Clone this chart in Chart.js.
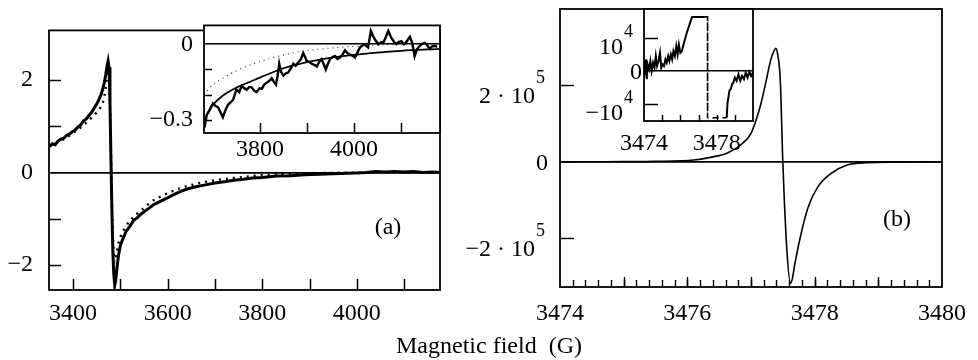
<!DOCTYPE html>
<html>
<head>
<meta charset="utf-8">
<script src="https://cdn.jsdelivr.net/npm/chart.js@4.4.1/dist/chart.umd.min.js"></script>
<style>
  body { margin: 0; background: #fff; }
  #wrap { position: relative; width: 978px; height: 360px; overflow: hidden; font-family: "Liberation Serif", "Times New Roman", serif; }
  canvas { position: absolute; }
  .txt { position: absolute; font-size: 24px; line-height: 24px; color: #000; white-space: pre; transform: translate(-50%, -50%); }
</style>
</head>
<body>
<div id="wrap">
  <canvas id="leftMain" width="470" height="340" style="left:0px;top:0px"></canvas>
  <canvas id="rightMain" width="518" height="340" style="left:460px;top:0px"></canvas>
  <canvas id="leftInset" width="320" height="175" style="left:140px;top:0px"></canvas>
  <canvas id="rightInset" width="200" height="170" style="left:570px;top:0px"></canvas>
  <div class="txt" style="left:388px;top:226px">(a)</div>
  <div class="txt" style="left:897px;top:218px">(b)</div>
  <div class="txt" style="left:489px;top:345px">Magnetic field  (G)</div>
</div>
<script>
// ---- panel (a): measured signal and fits ----
const leftField = [3350,3356,3362,3368,3374,3380,3386,3392,3398,3404,3410,3416,3422,3428,3434,3440,3446,3452,3458,3462,
  3466,3469,3472,3474,3476,3478,3480,3482,3484,3486,3488,3490,3493,3496,3500,3506,3512,3520,3528,3536,
  3544,3552,3560,3570,3580,3590,3600,3615,3630,3645,3660,3680,3700,3720,3740,3760,3780,3800,3830,3860,
  3890,3920,3950,3980,4000,4020,4040,4060,4080,4100,4120,4140,4160,4175];
const leftSignal = [0.56,0.62,0.60,0.68,0.72,0.74,0.80,0.83,0.88,0.92,0.98,1.03,1.12,1.16,1.24,1.32,1.42,1.52,1.66,1.78,
  1.95,2.12,2.32,2.42,2.28,1.5,0.3,-0.8,-1.7,-2.2,-2.45,-2.35,-2.05,-1.8,-1.58,-1.42,-1.28,-1.17,-1.04,-0.98,
  -0.9,-0.84,-0.78,-0.7,-0.65,-0.6,-0.55,-0.47,-0.4,-0.35,-0.31,-0.27,-0.23,-0.2,-0.17,-0.15,-0.12,-0.11,-0.08,-0.07,
  -0.05,-0.04,-0.03,-0.02,-0.01,0.0,0.02,0.01,0.02,0.01,0.02,0.0,0.01,0.0];

const leftDotField = [3350,3380,3410,3430,3445,3455,3465,3471,3475,3479,3482,3485,3488,3492,3497,3503,3510,3520,3535,3550,
  3565,3580,3600,3630,3660,3700,3750,3800,3850,3900,3950,4000,4050,4100,4175];
const leftDotSignal = [0.58,0.72,0.93,1.1,1.25,1.36,1.6,2.0,2.3,1.0,-0.6,-1.6,-1.95,-1.75,-1.5,-1.33,-1.2,-1.05,-0.9,-0.77,
  -0.64,-0.55,-0.45,-0.33,-0.25,-0.17,-0.11,-0.06,-0.035,-0.02,-0.01,-0.005,0,0,0];

// inset of (a): zoom on the tail
const insetField = [3682,3687,3693,3700,3706,3711,3716,3721,3727,3732,3738,3743,3750,3756,3761,3767,3772,3777,3782,3788,
  3793,3799,3804,3809,3814,3820,3825,3830,3834,3838,3841,3845,3850,3855,3860,3866,3871,3876,3882,3887,
  3892,3896,3899,3905,3910,3916,3921,3926,3931,3936,3940,3944,3949,3955,3960,3965,3970,3976,3981,3986,
  3991,3997,4002,4008,4013,4018,4023,4027,4030,4033,4036,4040,4043,4048,4052,4057,4062,4067,4070,4073,
  4077,4080,4085,4090,4095,4101,4106,4110,4115,4119,4124,4129,4134,4140,4145,4151,4156,4161,4166,4172,4177];
const insetSignal = [-0.33,-0.28,-0.26,-0.235,-0.245,-0.25,-0.27,-0.29,-0.26,-0.24,-0.23,-0.22,-0.18,-0.19,-0.165,-0.175,-0.18,-0.17,-0.17,-0.185,
  -0.19,-0.175,-0.177,-0.16,-0.153,-0.145,-0.135,-0.15,-0.16,-0.12,-0.077,-0.11,-0.124,-0.115,-0.112,-0.095,-0.077,-0.085,-0.07,-0.06,
  -0.035,-0.05,-0.065,-0.07,-0.077,-0.082,-0.088,-0.07,-0.059,-0.08,-0.1,-0.08,-0.059,-0.05,-0.047,-0.058,-0.053,-0.04,-0.024,-0.035,
  -0.041,-0.045,-0.053,-0.03,-0.012,-0.005,0.0,-0.008,-0.012,0.02,0.053,0.035,0.024,0.01,0.0,0.008,0.006,0.025,0.04,0.053,
  0.035,0.024,0.01,0.0,0.01,0.012,0.0,0.005,0.02,0.03,0.005,-0.047,-0.02,-0.006,0.002,0.006,-0.005,-0.018,-0.008,-0.006,-0.01];
const insetFitField = [3681,3690,3700,3720,3750,3780,3800,3850,3900,3950,4000,4050,4100,4183];
const insetFitSignal = [-0.30,-0.27,-0.24,-0.205,-0.172,-0.148,-0.132,-0.095,-0.071,-0.054,-0.042,-0.033,-0.026,-0.018];
const insetDotField = [3681,3700,3725,3750,3775,3800,3825,3850,3875,3900,3950,4000,4050,4100];
const insetDotSignal = [-0.2,-0.16,-0.13,-0.105,-0.085,-0.068,-0.055,-0.042,-0.032,-0.025,-0.015,-0.008,-0.003,0];

// ---- panel (b): calculated line ----
const rightField = [3474.0,3474.5,3475.0,3475.5,3476.1,3476.36,3476.62,3476.87,3477.0,3477.08,3477.16,3477.23,3477.31,3477.36,3477.39,3477.42,3477.46,3477.5,3477.56,3477.62,
  3477.65,3477.69,3477.8,3477.9,3478.05,3478.26,3478.51,3478.82,3479.3,3480.0];
const rightSignal = [0,0.005e5,0.008e5,0.015e5,0.05e5,0.12e5,0.23e5,0.49e5,0.75e5,1.1e5,1.55e5,2.06e5,2.67e5,2.9e5,2.97e5,2.8e5,2.14e5,0,-2.21e5,-3.17e5,
  -3.05e5,-2.65e5,-1.78e5,-1.17e5,-0.65e5,-0.3e5,-0.08e5,-0.02e5,-0.005e5,0];

// inset of (b): clipped view
const rightInsetField = [3474.0,3474.06,3474.1,3474.15,3474.2,3474.28,3474.35,3474.42,3474.5,3474.58,3474.65,3474.72,3474.8,3474.88,3474.95,3475.02,3475.1,3475.18,3475.25,3475.33,
  3475.4,3475.48,3475.55,3475.62,3475.7,3475.78,3475.85,3475.92,3476.0,3476.08,3476.2,3476.35,3476.5,3476.65,3477.35,3477.5,3477.5,3478.55,3478.6,3478.65,
  3478.7,3478.78,3478.85,3478.92,3479.0,3479.1,3479.2,3479.3,3479.4,3479.5,3479.6,3479.7,3479.8,3479.9,3480.0];
const rightInsetSignal = [0.3e4,-0.1e4,0.35e4,-0.25e4,0.2e4,0.05e4,0.3e4,0.0,0.25e4,0.1e4,0.45e4,0.15e4,0.3e4,0.55e4,0.1e4,0.2e4,0.15e4,0.35e4,0.25e4,0.45e4,
  0.3e4,0.5e4,0.35e4,0.6e4,0.45e4,0.75e4,0.5e4,0.8e4,0.55e4,0.6e4,0.85e4,1.15e4,1.4e4,1.64e4,1.64e4,1.64e4,-1.42e4,-1.42e4,-0.95e4,-0.8e4,
  -0.6e4,-0.55e4,-0.4e4,-0.35e4,-0.2e4,-0.3e4,-0.1e4,-0.3e4,-0.15e4,-0.25e4,-0.05e4,-0.2e4,-0.02e4,-0.15e4,-0.05e4];
const rightInsetDashStart = 3477.35;
const rightInsetDashEnd = 3478.55;

// ---- ticks and labels ----
const leftXLabels = [3400, 3600, 3800, 4000];
const leftXMarks = [3400, 3500, 3600, 3700, 3800, 3900, 4000, 4100];
const leftYLabels = [-2, 0, 2];
const leftYMarks = [-2, -1, 1, 2];
const insetXLabels = [3800, 4000];
const insetXMarks = [3800, 3900, 4000, 4100];
const insetYLabels = [-0.3, 0];
const insetYMarks = [-0.3, -0.2, -0.1];
const rightXLabels = [3474, 3476, 3478, 3480];
const rightXMajorMarks = [3475, 3476, 3477, 3478, 3479];
const rightXMinorStep = 0.2;
const rightYValues = [-2e5, 0, 2e5];
const rightYTexts = ['\u22122 \u00b7 10', '0', '2 \u00b7 10'];
const rightYSups = ['5', '', '5'];
const rightYMarks = [-2e5, 2e5];
const rInsetXLabels = [3474, 3478];
const rInsetXMarks = [3475, 3476, 3477, 3478, 3479];
const rInsetYValues = [-1e4, 0, 1e4];
const rInsetYTexts = ['\u221210', '0', '10'];
const rInsetYSups = ['4', '', '4'];
const rInsetYMarks = [-1e4, 1e4];

const pts = (xs, ys) => xs.map((x, i) => ({ x: x, y: ys[i] }));
const fmt = v => String(v).replace('-', '\u2212');
const FONT = '"Liberation Serif", "Times New Roman", serif';

Chart.defaults.font.family = FONT;
Chart.defaults.font.size = 24;
Chart.defaults.color = '#000';

// white box, frame and inward tick marks
const framePlugin = {
  id: 'frame',
  beforeDraw(chart, args, o) {
    const a = chart.chartArea, ctx = chart.ctx;
    ctx.save();
    ctx.fillStyle = '#fff';
    ctx.fillRect(a.left, a.top, a.right - a.left, a.bottom - a.top);
    ctx.restore();
  },
  afterDraw(chart, args, o) {
    const a = chart.chartArea, ctx = chart.ctx;
    ctx.save();
    ctx.strokeStyle = '#000';
    ctx.lineWidth = o.width;
    ctx.strokeRect(a.left, a.top, a.right - a.left, a.bottom - a.top);
    ctx.lineWidth = o.tickWidth;
    (o.marks || []).forEach(m => {
      const s = chart.scales[m.axis];
      m.values.forEach(v => {
        const p = Math.round(s.getPixelForValue(v)) + 0.5;
        ctx.beginPath();
        if (m.axis === 'x') { ctx.moveTo(p, a.bottom); ctx.lineTo(p, a.bottom - m.len); }
        else { ctx.moveTo(a.left, p); ctx.lineTo(a.left + m.len, p); }
        ctx.stroke();
      });
    });
    ctx.restore();
  }
};

// y labels with a raised exponent
const supPlugin = {
  id: 'supLabels',
  afterDraw(chart, args, o) {
    if (!o.values) return;
    const ctx = chart.ctx, s = chart.scales.y, left = chart.chartArea.left;
    ctx.save();
    ctx.fillStyle = '#000';
    ctx.textBaseline = 'middle';
    o.values.forEach((v, i) => {
      const y = s.getPixelForValue(v);
      const sup = o.sups[i];
      if (!sup) {
        ctx.font = '24px ' + FONT;
        ctx.textAlign = 'right';
        ctx.fillText(o.texts[i], left - o.pad, y + 2);
        return;
      }
      ctx.font = o.supSize + 'px ' + FONT;
      const sw = ctx.measureText(sup).width;
      ctx.textAlign = 'left';
      ctx.fillText(sup, left - o.supPad - sw, y + o.dySup);
      ctx.font = '24px ' + FONT;
      ctx.textAlign = 'right';
      ctx.fillText(o.texts[i], left - o.supPad - sw - 1, y + o.dyBase);
    });
    ctx.restore();
  }
};

function axes(o) {
  return {
    x: {
      type: 'linear', min: o.xMin, max: o.xMax,
      afterBuildTicks: s => { s.ticks = o.xLabels.map(v => ({ value: v })); },
      afterFit: s => { s.height = o.xHeight; },
      grid: { display: false, drawTicks: false },
      border: { display: false },
      ticks: { padding: o.xPad, maxRotation: 0, autoSkip: false, callback: v => fmt(v) }
    },
    y: {
      type: 'linear', min: o.yMin, max: o.yMax,
      afterBuildTicks: s => { s.ticks = o.yLabels.map(v => ({ value: v })); },
      afterFit: s => { s.width = o.yWidth; },
      grid: {
        drawTicks: false,
        lineWidth: o.zeroWidth,
        color: c => (c.tick && c.tick.value === 0) ? '#000' : 'rgba(0,0,0,0)'
      },
      border: { display: false },
      ticks: { display: o.yNative, padding: o.yPad, callback: v => fmt(v) }
    }
  };
}

function makeChart(id, datasets, ax, padding, frame, sup) {
  return new Chart(document.getElementById(id), {
    type: 'line',
    data: { datasets: datasets },
    options: {
      responsive: false,
      animation: false,
      events: [],
      layout: { padding: padding },
      plugins: {
        legend: { display: false },
        tooltip: { enabled: false },
        frame: frame,
        supLabels: sup || {}
      },
      elements: { point: { radius: 0 }, line: { tension: 0, borderColor: '#000', fill: false } },
      scales: axes(ax)
    },
    plugins: [framePlugin, supPlugin]
  });
}

// (a) main panel
makeChart('leftMain', [
  { data: pts(leftField, leftSignal), borderWidth: 3, borderColor: '#000' },
  { data: pts(leftDotField, leftDotSignal), borderWidth: 2.4, borderColor: '#000', borderDash: [2, 5], cubicInterpolationMode: 'monotone' }
], {
  xMin: 3349, xMax: 4176, yMin: -2.55, yMax: 3.08,
  xLabels: leftXLabels, yLabels: leftYLabels,
  xHeight: 50, yWidth: 49, xPad: 9, yPad: 16, yNative: true, zeroWidth: 1.8
}, { top: 12, right: 30, left: 0, bottom: 0 }, {
  width: 1.8, tickWidth: 1.5,
  marks: [{ axis: 'x', values: leftXMarks, len: 11 }, { axis: 'y', values: leftYMarks, len: 12 }]
});

// (a) inset
makeChart('leftInset', [
  { data: pts(insetDotField, insetDotSignal), borderWidth: 1.2, borderColor: '#333', borderDash: [1, 4], cubicInterpolationMode: 'monotone' },
  { data: pts(insetFitField, insetFitSignal), borderWidth: 1.8, borderColor: '#000', cubicInterpolationMode: 'monotone' },
  { data: pts(insetField, insetSignal), borderWidth: 2.4, borderColor: '#000' }
], {
  xMin: 3681, xMax: 4183, yMin: -0.352, yMax: 0.075,
  xLabels: insetXLabels, yLabels: insetYLabels,
  xHeight: 42, yWidth: 64, xPad: 2, yPad: 11, yNative: true, zeroWidth: 1.6
}, { top: 12, right: 20, left: 0, bottom: 0 }, {
  width: 1.8, tickWidth: 1.5,
  marks: [{ axis: 'x', values: insetXMarks, len: 10 }, { axis: 'y', values: insetYMarks, len: 8 }]
});

// (b) main panel
const rightXMinor = [];
for (let v = rightXLabels[0] + rightXMinorStep; v < rightXLabels[rightXLabels.length - 1] - 0.01; v += rightXMinorStep) {
  rightXMinor.push(Math.round(v * 10) / 10);
}
makeChart('rightMain', [
  { data: pts(rightField, rightSignal), borderWidth: 1.6, borderColor: '#000', cubicInterpolationMode: 'monotone' }
], {
  xMin: 3474, xMax: 3480, yMin: -3.27e5, yMax: 4.0e5,
  xLabels: rightXLabels, yLabels: rightYValues,
  xHeight: 53, yWidth: 100, xPad: 12, yPad: 12, yNative: false, zeroWidth: 1.8
}, { top: 9, right: 28, left: 0, bottom: 0 }, {
  width: 1.8, tickWidth: 1.4,
  marks: [
    { axis: 'x', values: rightXMinor, len: 7 },
    { axis: 'x', values: rightXMajorMarks, len: 10 },
    { axis: 'y', values: rightYMarks, len: 14 }
  ]
}, { values: rightYValues, texts: rightYTexts, sups: rightYSups, pad: 12, supPad: 15, supSize: 18, dyBase: 11, dySup: -7 });

// (b) inset
makeChart('rightInset', [
  {
    data: pts(rightInsetField, rightInsetSignal), borderWidth: 2, borderColor: '#000',
    segment: {
      borderDash: c => (c.p0.parsed.x >= rightInsetDashStart && c.p1.parsed.x <= rightInsetDashEnd) ? [6, 4] : undefined,
      borderWidth: c => (c.p0.parsed.x >= rightInsetDashStart && c.p1.parsed.x <= rightInsetDashEnd) ? 1.6 : undefined
    }
  }
], {
  xMin: 3474, xMax: 3480, yMin: -1.52e4, yMax: 1.88e4,
  xLabels: rInsetXLabels, yLabels: rInsetYValues,
  xHeight: 49, yWidth: 74, xPad: 8, yPad: 2, yNative: false, zeroWidth: 1.6
}, { top: 9, right: 17, left: 0, bottom: 0 }, {
  width: 1.8, tickWidth: 1.5,
  marks: [{ axis: 'x', values: rInsetXMarks, len: 6 }, { axis: 'y', values: rInsetYMarks, len: 14 }]
}, { values: rInsetYValues, texts: rInsetYTexts, sups: rInsetYSups, pad: 2, supPad: 11, supSize: 18, dyBase: 10, dySup: -6 });
</script>
</body>
</html>
